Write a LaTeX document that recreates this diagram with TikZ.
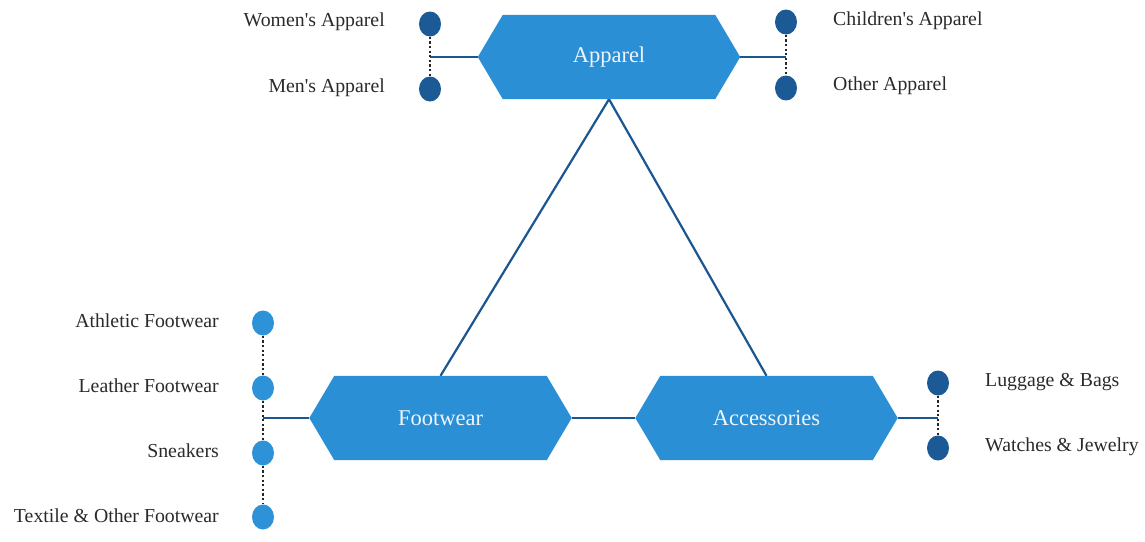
\documentclass[tikz,border=0pt]{standalone}
\usepackage{fontspec}
\setmainfont{Liberation Serif}
\usetikzlibrary{shapes.geometric}
\definecolor{hexblue}{HTML}{2B8FD5}
\definecolor{darkdot}{HTML}{1B5A94}
\definecolor{lightdot}{HTML}{2E92D8}
\definecolor{linkblue}{HTML}{1A5690}
\definecolor{labelgray}{HTML}{2A2A2A}
\definecolor{hextext}{HTML}{EEF5FC}
\begin{document}
\begin{tikzpicture}[x=1pt,y=-1pt,
  hexbox/.style={rectangle, minimum width=262pt, minimum height=84pt, inner sep=0pt,
    font=\fontsize{22.5}{26}\selectfont, text=hextext},
  dot/.style={ellipse, minimum width=22pt, minimum height=25pt, inner sep=0pt, fill=#1},
  link/.style={draw=linkblue, line width=2.2pt},
  chain/.style={draw=black!85, line width=2.6pt, dash pattern=on 2.2pt off 2.4pt},
  lbl/.style={inner sep=0pt, text=labelgray, font=\fontsize{19.8}{22}\selectfont}]
\useasboundingbox (0,0) rectangle (1145,541);

% category boxes
\node[hexbox] (app) at (609,57) {};
\node[hexbox] (foot) at (440.5,418) {};
\node[hexbox] (acc) at (766.5,418) {};

% triangle of links between categories
\draw[link] (app.south) -- (foot.north);
\draw[link] (app.south) -- (acc.north);
\draw[link] (foot.east) -- (acc.west);

% hexagon fills drawn over the rectangle frames
\foreach \h/\t in {app/Apparel, foot/Footwear, acc/Accessories}{
  \fill[hexblue] (\h.west) -- ([xshift=25pt]\h.north west) -- ([xshift=-25pt]\h.north east)
    -- (\h.east) -- ([xshift=-25pt]\h.south east) -- ([xshift=25pt]\h.south west) -- cycle;
  \node[hexbox] at (\h) {\t};
}

% Apparel subcategories
\coordinate (appL) at (430,57);
\coordinate (appR) at (786,57);
\draw[link] (app.west) -- (appL);
\draw[link] (app.east) -- (appR);
\node[dot=darkdot] (wa) at (430,24) {};
\node[dot=darkdot] (ma) at (430,89) {};
\node[dot=darkdot] (ca) at (786,22) {};
\node[dot=darkdot] (oa) at (786,88) {};
\draw[chain] (wa) -- (ma);
\draw[chain] (ca) -- (oa);
\node[lbl, anchor=east] at (385,22) {Women\textquotesingle s Apparel};
\node[lbl, anchor=east] at (385,88) {Men\textquotesingle s Apparel};
\node[lbl, anchor=west] at (833,21) {Children\textquotesingle s Apparel};
\node[lbl, anchor=west] at (833,86) {Other Apparel};

% Footwear subcategories
\coordinate (footL) at (263,418);
\draw[link] (foot.west) -- (footL);
\node[dot=lightdot] (f1) at (263,323) {};
\node[dot=lightdot] (f2) at (263,388) {};
\node[dot=lightdot] (f3) at (263,453) {};
\node[dot=lightdot] (f4) at (263,517) {};
\draw[chain] (f1) -- (f2);
\draw[chain] (f2) -- (f3);
\draw[chain] (f3) -- (f4);
\node[lbl, anchor=east] at (219,321) {Athletic Footwear};
\node[lbl, anchor=east] at (219,386) {Leather Footwear};
\node[lbl, anchor=east] at (219,451) {Sneakers};
\node[lbl, anchor=east] at (219,516) {Textile \& Other Footwear};

% Accessories subcategories
\coordinate (accR) at (938,418);
\draw[link] (acc.east) -- (accR);
\node[dot=darkdot] (lb) at (938,383) {};
\node[dot=darkdot] (wj) at (938,448) {};
\draw[chain] (lb) -- (wj);
\node[lbl, anchor=west] at (985,382) {Luggage \& Bags};
\node[lbl, anchor=west] at (985,447) {Watches \& Jewelry};
\end{tikzpicture}
\end{document}
